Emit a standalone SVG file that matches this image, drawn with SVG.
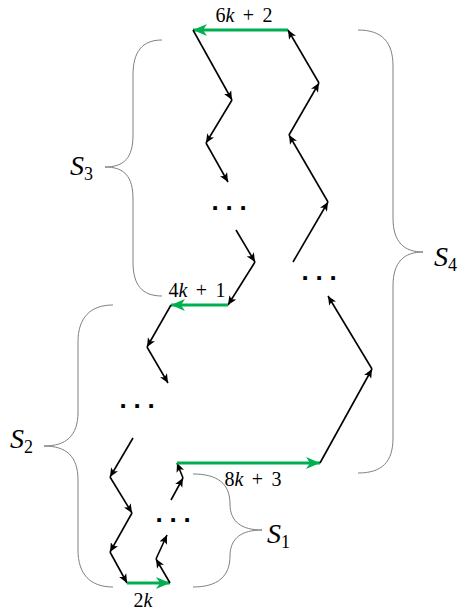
<svg xmlns="http://www.w3.org/2000/svg" width="463" height="613" viewBox="0 0 463 613">
<defs>
<style>
.a{stroke:#000;stroke-width:1.6;fill:none;marker-end:url(#ah)}
.g{stroke:#00B050;stroke-width:3;fill:none;marker-end:url(#ag)}
.b{stroke:#808080;stroke-width:1;fill:none}
.m{font-family:"Liberation Serif",serif;font-size:20px;fill:#000;word-spacing:3.5px}
.s{font-family:"Liberation Serif",serif;font-size:28px;font-style:italic;fill:#000}
.sub{font-size:18px;font-style:normal}
.d{font-family:"Liberation Sans",sans-serif;font-weight:bold;font-size:26px;letter-spacing:6.8px;fill:#000}
</style>
<marker id="ah" viewBox="0 0 10 10" refX="10" refY="5" markerWidth="9" markerHeight="9" markerUnits="userSpaceOnUse" orient="auto"><path d="M0,0.5 L10,5 L0,9.5 L2.5,5 Z" fill="#000"/></marker>
<marker id="ag" viewBox="0 0 14 12" refX="14" refY="6" markerWidth="14" markerHeight="12" markerUnits="userSpaceOnUse" orient="auto"><path d="M0,0 L14,6 L0,12 L4,6 Z" fill="#00B050"/></marker>
</defs>
<rect width="463" height="613" fill="#fff"/>
<g id="connectors">
<line class="g" x1="288" y1="30" x2="193" y2="30"/>
<line class="a" x1="193" y1="30" x2="232" y2="100"/>
<line class="a" x1="232" y1="100" x2="206" y2="143"/>
<line class="a" x1="206" y1="143" x2="228" y2="182"/>
<line class="a" x1="236" y1="230" x2="255" y2="262"/>
<line class="a" x1="255" y1="262" x2="228" y2="305"/>
<line class="g" x1="228" y1="305" x2="171" y2="305"/>
<line class="a" x1="171" y1="305" x2="147" y2="347"/>
<line class="a" x1="147" y1="347" x2="168" y2="383"/>
<line class="a" x1="133" y1="438" x2="110" y2="477"/>
<line class="a" x1="110" y1="477" x2="132" y2="513"/>
<line class="a" x1="132" y1="513" x2="110" y2="552"/>
<line class="a" x1="110" y1="552" x2="127" y2="583"/>
<line class="g" x1="127" y1="583" x2="170" y2="583"/>
<line class="a" x1="170" y1="583" x2="156" y2="559"/>
<line class="a" x1="156" y1="559" x2="167" y2="535"/>
<line class="a" x1="171" y1="500" x2="183" y2="478"/>
<line class="a" x1="183" y1="478" x2="177" y2="463"/>
<line class="g" x1="177" y1="463" x2="320" y2="463"/>
<line class="a" x1="320" y1="463" x2="372" y2="369"/>
<line class="a" x1="372" y1="369" x2="328" y2="296"/>
<line class="a" x1="293" y1="262" x2="328" y2="202"/>
<line class="a" x1="328" y1="202" x2="289" y2="135"/>
<line class="a" x1="289" y1="135" x2="319" y2="83"/>
<line class="a" x1="319" y1="83" x2="288" y2="30"/>
</g>
<g id="dots">
<text class="d" x="211.4" y="210">...</text>
<text class="d" x="301.4" y="280">...</text>
<text class="d" x="119.4" y="408">...</text>
<text class="d" x="155.4" y="522">...</text>
</g>
<g id="edge-labels">
<text class="m" x="244" y="22" text-anchor="middle">6<tspan font-style="italic">k</tspan> + 2</text>
<text class="m" x="197" y="297" text-anchor="middle">4<tspan font-style="italic">k</tspan> + 1</text>
<text class="m" x="253" y="486" text-anchor="middle">8<tspan font-style="italic">k</tspan> + 3</text>
<text class="m" x="143" y="607" text-anchor="middle">2<tspan font-style="italic">k</tspan></text>
</g>
<g id="S3">
<path class="b" d="M162,40 C142,40 133,52 133,75 L133,135 C133,158 124,167 105,167 C124,167 133,176 133,199 L133,262 C133,285 142,296 162,296"/>
<text class="s" x="70" y="175">S<tspan class="sub" dy="5">3</tspan></text>
</g>
<g id="S2">
<path class="b" d="M113,305 C90,305 78,318 78,342 L78,412 C78,436 66,446 44,446 C66,446 78,456 78,480 L78,550 C78,574 90,587 113,587"/>
<text class="s" x="10" y="448">S<tspan class="sub" dy="5">2</tspan></text>
</g>
<g id="S1">
<path class="b" d="M193,474 C218,474 230,484 230,504 C230,522 242,530 262,530 C242,530 230,538 230,556 C230,576 218,587 193,587"/>
<text class="s" x="267" y="543">S<tspan class="sub" dy="5">1</tspan></text>
</g>
<g id="S4">
<path class="b" d="M358,30 C382,30 393,42 393,66 L393,218 C393,242 404,252 423,252 C404,252 393,262 393,286 L393,438 C393,462 382,473 358,473"/>
<text class="s" x="434" y="266">S<tspan class="sub" dy="5">4</tspan></text>
</g>
</svg>
